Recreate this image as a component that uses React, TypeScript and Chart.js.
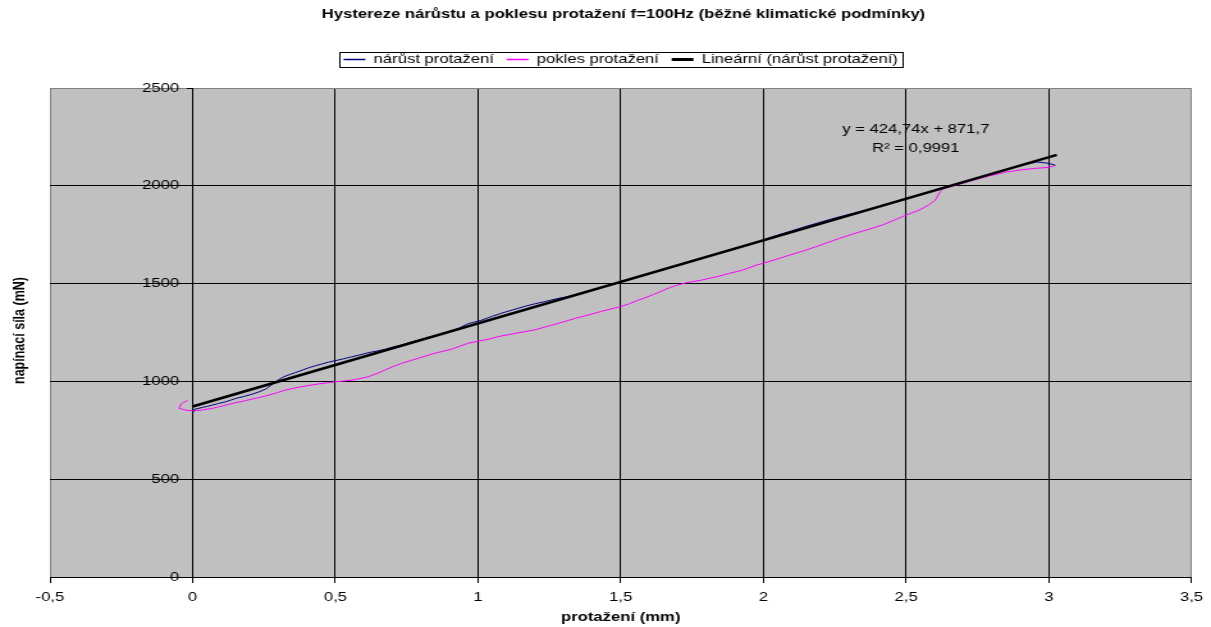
import { useEffect, useRef } from 'react';
import { Chart, registerables } from 'chart.js';

Chart.register(...registerables);

const FONT = "'Liberation Sans', Arial, Helvetica, sans-serif";

const TITLE = 'Hystereze nárůstu a poklesu protažení f=100Hz (běžné klimatické podmínky)';
const X_TITLE = 'protažení (mm)';
const Y_TITLE = 'napínací síla (mN)';
const SERIES_NAMES = ['nárůst protažení', 'pokles protažení', 'Lineární (nárůst protažení)'];
const X_TICK_LABELS = ['-0,5', '0', '0,5', '1', '1,5', '2', '2,5', '3', '3,5'];
const Y_TICK_LABELS = ['0', '500', '1000', '1500', '2000', '2500'];

// nárůst protažení (increasing elongation)
const NARUST_X = [
  0.0, 0.006, 0.02, 0.035, 0.05, 0.069, 0.09, 0.116, 0.135, 0.151, 0.18, 0.209, 0.235, 0.256,
  0.275, 0.29, 0.305, 0.32, 0.34, 0.36, 0.385, 0.407, 0.43, 0.453, 0.475, 0.5, 0.53, 0.558,
  0.59, 0.616, 0.645, 0.674, 0.7, 0.732, 0.77, 0.81, 0.848, 0.89, 0.93, 0.965, 1.011, 1.05,
  1.081, 1.12, 1.16, 1.197, 1.24, 1.28, 1.313, 1.35, 1.4, 1.45, 1.5, 1.55, 1.6, 1.65, 1.7,
  1.75, 1.8, 1.85, 1.9, 1.95, 2.0, 2.05, 2.1, 2.15, 2.2, 2.25, 2.3, 2.35, 2.4, 2.45, 2.5,
  2.55, 2.6, 2.65, 2.7, 2.75, 2.8, 2.85, 2.9, 2.958, 2.999, 3.022,
];
const NARUST_Y = [
  840, 857, 862, 867, 872, 879, 887, 896, 905, 913, 923, 935, 948, 961,
  980, 998, 1012, 1024, 1035, 1045, 1058, 1070, 1080, 1089, 1098, 1106, 1116, 1126,
  1137, 1147, 1155, 1164, 1175, 1186, 1203, 1218, 1232, 1250, 1270, 1295, 1312, 1333,
  1348, 1365, 1382, 1396, 1410, 1424, 1433, 1447, 1466, 1487, 1508, 1530, 1552, 1573, 1594,
  1616, 1637, 1658, 1679, 1701, 1723, 1748, 1770, 1793, 1814, 1835, 1854, 1872, 1892, 1913, 1934,
  1955, 1976, 1998, 2018, 2040, 2061, 2083, 2103, 2122, 2115, 2105,
];

// pokles protažení (decreasing elongation)
const POKLES_X = [
  3.024, 3.01, 2.999, 2.95, 2.906, 2.85, 2.79, 2.73, 2.673, 2.65, 2.64, 2.627, 2.621, 2.612,
  2.606, 2.6, 2.58, 2.546, 2.501, 2.464, 2.418, 2.36, 2.31, 2.266, 2.225, 2.185, 2.14, 2.092,
  2.04, 1.999, 1.976, 1.93, 1.88, 1.836, 1.78, 1.732, 1.7, 1.674, 1.645, 1.616, 1.586, 1.557,
  1.53, 1.499, 1.465, 1.43, 1.4, 1.372, 1.34, 1.313, 1.255, 1.197, 1.14, 1.081, 1.034, 0.965,
  0.906, 0.848, 0.79, 0.732, 0.7, 0.674, 0.645, 0.616, 0.585, 0.558, 0.53, 0.5, 0.47, 0.441,
  0.41, 0.383, 0.355, 0.325, 0.295, 0.267, 0.24, 0.209, 0.18, 0.151, 0.125, 0.104, 0.085, 0.069,
  0.05, 0.035, 0.015, 0.0, -0.02, -0.035, -0.047, -0.046, -0.044, -0.04, -0.035, -0.025, -0.018,
];
const POKLES_Y = [
  2105, 2098, 2094, 2089, 2082, 2070, 2050, 2026, 2002, 1992, 1990, 1984, 1972, 1953,
  1935, 1925, 1902, 1876, 1851, 1828, 1800, 1774, 1752, 1731, 1710, 1689, 1667, 1646,
  1622, 1604, 1595, 1570, 1552, 1535, 1517, 1505, 1493, 1481, 1463, 1445, 1428, 1413,
  1397, 1382, 1370, 1357, 1345, 1334, 1322, 1310, 1286, 1263, 1248, 1232, 1215, 1195,
  1164, 1144, 1118, 1092, 1075, 1058, 1040, 1024, 1014, 1007, 1002, 998, 992, 987,
  980, 973, 965, 956, 942, 930, 920, 910, 900, 891, 882, 874, 868, 862,
  858, 854, 851, 850, 852, 857, 862, 868, 874, 885, 891, 897, 901,
];

// Lineární (nárůst protažení) trend line end points
const TREND_X = [0, 3.028];
const TREND_Y = [871.7, 2157.8];

const EQUATION = 'y = 424,74x + 871,7';
const R_SQUARED = 'R² = 0,9991';
const EQ_X = 2.534;
const EQ_Y = [2287, 2193];

const CANVAS_W = 946;
const CANVAS_H = 627;
const STRETCH = 1211 / CANVAS_W;

const toPoints = (xs: number[], ys: number[]) => xs.map((x, i) => ({ x, y: ys[i] }));

const plotBackground = {
  id: 'plotBackground',
  beforeDraw(chart: any) {
    const { ctx, chartArea: a } = chart;
    ctx.save();
    ctx.fillStyle = '#C0C0C0';
    ctx.fillRect(a.left, a.top, a.right - a.left, a.bottom - a.top);
    ctx.restore();
  },
};

const legendSpace = {
  id: 'legendSpace',
  beforeInit(chart: any) {
    const lg = chart.legend;
    if (!lg) return;
    const fit = lg.fit;
    lg.fit = function () {
      fit.call(this);
      this.height += 12;
    };
  },
};

const extras = {
  id: 'extras',
  afterDraw(chart: any) {
    const { ctx, chartArea } = chart;
    const xs = chart.scales.x;
    const ys = chart.scales.y;

    // y tick labels left of the y axis (which crosses at x = 0)
    ctx.save();
    ctx.fillStyle = '#000';
    ctx.font = `13px ${FONT}`;
    ctx.textAlign = 'right';
    ctx.textBaseline = 'middle';
    const x0 = xs.getPixelForValue(0);
    ys.ticks.forEach((t: any, i: number) => {
      ctx.fillText(Y_TICK_LABELS[i], x0 - 10.5, ys.getPixelForValue(t.value));
    });
    ctx.restore();

    // y axis title
    ctx.save();
    ctx.fillStyle = '#000';
    ctx.font = `bold 12.5px ${FONT}`;
    ctx.textAlign = 'center';
    ctx.textBaseline = 'middle';
    ctx.translate(15.5, (chartArea.top + chartArea.bottom) / 2 - 2);
    ctx.rotate(-Math.PI / 2);
    ctx.fillText(Y_TITLE, 0, 0);
    ctx.restore();

    // trend equation
    ctx.save();
    ctx.fillStyle = '#000';
    ctx.font = `13px ${FONT}`;
    ctx.textAlign = 'center';
    ctx.textBaseline = 'middle';
    const ex = xs.getPixelForValue(EQ_X);
    ctx.fillText(EQUATION, ex, ys.getPixelForValue(EQ_Y[0]));
    ctx.fillText(R_SQUARED, ex, ys.getPixelForValue(EQ_Y[1]));
    ctx.restore();

    // legend frame
    const hb = chart.legend && chart.legend.legendHitBoxes;
    if (hb && hb.length) {
      const first = hb[0];
      const last = hb[hb.length - 1];
      const left = Math.round(first.left - 3) + 0.5;
      const right = Math.round(last.left + last.width + 4) + 0.5;
      const cy = first.top + first.height / 2;
      const top = Math.round(cy - 7.5) + 0.5;
      const bottom = Math.round(cy + 7.5) + 0.5;
      ctx.save();
      ctx.strokeStyle = '#000';
      ctx.lineWidth = 1;
      ctx.strokeRect(left, top, right - left, bottom - top);
      ctx.restore();
    }
  },
};

export default function App() {
  const canvasRef = useRef<HTMLCanvasElement | null>(null);

  useEffect(() => {
    const canvas = canvasRef.current;
    if (!canvas) return;
    const chart = new Chart(canvas, {
      type: 'scatter',
      data: {
        datasets: [
          {
            label: SERIES_NAMES[0],
            data: toPoints(NARUST_X, NARUST_Y),
            borderColor: '#000080',
            backgroundColor: '#000080',
            borderWidth: 1,
            pointRadius: 0,
            pointBorderColor: '#000080',
            pointBorderWidth: 1.6,
            pointStyle: 'line',
            showLine: true,
            tension: 0,
            order: 2,
          },
          {
            label: SERIES_NAMES[1],
            data: toPoints(POKLES_X, POKLES_Y),
            borderColor: '#FF00FF',
            backgroundColor: '#FF00FF',
            borderWidth: 1,
            pointRadius: 0,
            pointBorderColor: '#FF00FF',
            pointBorderWidth: 1.6,
            pointStyle: 'line',
            showLine: true,
            tension: 0,
            order: 3,
          },
          {
            label: SERIES_NAMES[2],
            data: toPoints(TREND_X, TREND_Y),
            borderColor: '#000000',
            backgroundColor: '#000000',
            borderWidth: 2.5,
            pointRadius: 0,
            pointBorderColor: '#000000',
            pointBorderWidth: 3,
            pointStyle: 'line',
            showLine: true,
            tension: 0,
            order: 1,
          },
        ],
      },
      options: {
        responsive: false,
        animation: false,
        devicePixelRatio: 1,
        layout: { padding: { left: 39, right: 11, top: 0, bottom: 0 } },
        plugins: {
          title: {
            display: true,
            text: TITLE,
            color: '#000',
            font: { family: FONT, size: 13, weight: 'bold' },
            padding: { top: 7, bottom: 20.4 },
          },
          legend: {
            display: true,
            position: 'top',
            fullSize: false,
            align: 'center',
            labels: {
              usePointStyle: true,
              pointStyleWidth: 17,
              color: '#000',
              font: { family: FONT, size: 13 },
              padding: 10,
              sort: (a: any, b: any) => a.datasetIndex - b.datasetIndex,
            },
          },
          tooltip: { enabled: false },
        },
        scales: {
          x: {
            type: 'linear',
            position: 'bottom',
            min: -0.5,
            max: 3.5,
            ticks: {
              stepSize: 0.5,
              color: '#000',
              font: { family: FONT, size: 13 },
              padding: 6.2,
              maxRotation: 0,
              autoSkip: false,
              callback: (_v: any, i: number) => X_TICK_LABELS[i],
            },
            grid: {
              color: (c: any) =>
                c.index === 0 || c.index === X_TICK_LABELS.length - 1 ? '#808080' : '#000000',
              lineWidth: 1,
              tickLength: 6,
              tickColor: '#000000',
            },
            border: { display: true, color: '#000000', width: 1 },
            title: {
              display: true,
              text: X_TITLE,
              color: '#000',
              font: { family: FONT, size: 13, weight: 'bold' },
              padding: { top: -1.8, bottom: 2.2 },
            },
          },
          y: {
            type: 'linear',
            position: { x: 0 },
            min: 0,
            max: 2500,
            ticks: { stepSize: 500, display: false },
            grid: {
              color: (c: any) => (c.tick && c.tick.value === 2500 ? '#808080' : '#000000'),
              lineWidth: 1,
              tickLength: 4,
              tickColor: '#000000',
            },
            border: { display: true, color: '#000000', width: 1 },
          },
        },
      } as any,
      plugins: [plotBackground, legendSpace, extras],
    });
    return () => chart.destroy();
  }, []);

  return (
    <div
      style={{
        position: 'fixed',
        left: 0,
        top: 0,
        width: 1211,
        height: 627,
        overflow: 'hidden',
        background: '#fff',
      }}
    >
      <canvas
        ref={canvasRef}
        width={CANVAS_W}
        height={CANVAS_H}
        style={{
          display: 'block',
          width: `${CANVAS_W}px`,
          height: `${CANVAS_H}px`,
          transform: `scaleX(${STRETCH})`,
          transformOrigin: '0 0',
        }}
      />
    </div>
  );
}
